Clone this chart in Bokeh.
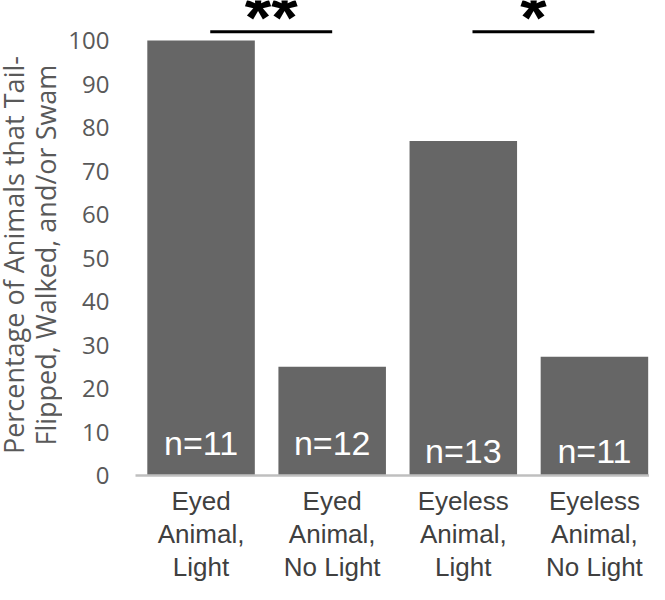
import math

from bokeh.plotting import figure
from bokeh.layouts import row
from bokeh.models import Range1d, FixedTicker
from bokeh.embed import file_html
from bokeh.resources import INLINE
from bokeh.core.properties import value

# 数据
categories = ["Eyed\nAnimal,\nLight", "Eyed\nAnimal,\nNo Light",
              "Eyeless\nAnimal,\nLight", "Eyeless\nAnimal,\nNo Light"]
percent = [100.0, 25.0, 76.9, 27.3]
n_counts = [11, 12, 13, 11]
sig_pairs = [(1, 2), (3, 4)]
sig_marks = ["**", "*"]
y_ticks = [0, 10, 20, 30, 40, 50, 60, 70, 80, 90, 100]
y_title = ["Percentage of Animals that Tail-", "Flipped, Walked, and/or Swam"]

xs = [1, 2, 3, 4]
H = 584

# 左侧y轴标题（单独一个窄图）
t = figure(width=62, height=H, output_backend="svg", toolbar_location=None,
           x_range=Range1d(0, 62), y_range=Range1d(0, H),
           min_border=0, outline_line_color=None)
t.axis.visible = False
t.grid.visible = False
t.text(x=[13, 45], y=[H - 313, H - 313], text=y_title, angle=math.pi / 2,
       text_align="center", text_baseline="alphabetic", text_font=value("Open Sans"),
       text_font_size="27px", text_color="#595959")

# 主图
p = figure(width=587, height=H, output_backend="svg", toolbar_location=None,
           x_range=Range1d(0.5, 4.42), y_range=Range1d(0, 109.2),
           min_border_left=73, min_border_right=0, min_border_top=0, min_border_bottom=109)
p.outline_line_color = None
p.grid.grid_line_color = None

# 柱子
p.vbar(x=xs, top=percent, width=0.82, fill_color="#666666", line_color=None)

# y轴
p.yaxis.ticker = FixedTicker(ticks=y_ticks)
p.yaxis.axis_line_color = None
p.yaxis.major_tick_line_color = None
p.yaxis.minor_tick_line_color = None
p.yaxis.major_label_standoff = 20
p.yaxis.major_label_text_font = "Open Sans"
p.yaxis.major_label_text_font_size = "24px"
p.yaxis.major_label_text_color = "#595959"

# x轴
p.xaxis.ticker = FixedTicker(ticks=xs)
p.xaxis.major_label_overrides = {x: c for x, c in zip(xs, categories)}
p.xaxis.axis_line_color = "#bfbfbf"
p.xaxis.axis_line_width = 2.5
p.xaxis.major_tick_line_color = None
p.xaxis.major_tick_out = 0
p.xaxis.major_tick_in = 0
p.xaxis.minor_tick_line_color = None
p.xaxis.major_label_standoff = 10
p.xaxis.major_label_text_font = "Liberation Sans"
p.xaxis.major_label_text_font_size = "26px"
p.xaxis.major_label_text_line_height = 1.1
p.xaxis.major_label_text_color = "#404040"

# n= 标签
n_y = [7.4, 7.4, 5.7, 5.7]
p.text(x=xs, y=n_y, text=["n=%d" % n for n in n_counts], text_align="center",
       text_baseline="alphabetic", text_font=value("Liberation Sans"),
       text_font_size="34px", text_color="white")

# 显著性
x0 = [a + 0.07 for a, b in sig_pairs]
x1 = [b + 0.0 for a, b in sig_pairs]
p.segment(x0=x0, y0=[102, 102], x1=x1, y1=[102, 102], line_color="black", line_width=3)
p.text(x=[(a + b) / 2 for a, b in zip(x0, x1)], y=[105.3, 105.3], text=sig_marks,
       text_align="center", text_baseline="alphabetic", text_font=value("Liberation Sans"),
       text_font_style="bold", text_font_size="68px", text_color="black")

layout = row(t, p)
open("out.html", "w").write(file_html(layout, INLINE))
